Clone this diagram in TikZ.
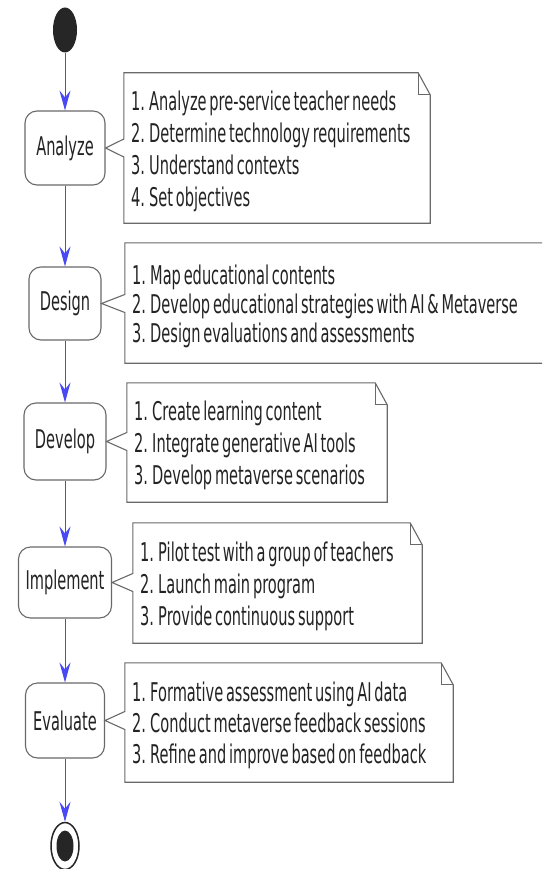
\documentclass[tikz,border=0pt]{standalone}
\usepackage{fontspec}
\newfontfamily\umlfont[FakeStretch=0.565,WordSpace=0.6]{DejaVu Sans}
\usetikzlibrary{arrows.meta,shapes.geometric,calc}
\definecolor{flowblue}{RGB}{72,72,245}
\definecolor{edgegray}{RGB}{105,105,105}
\definecolor{txtgray}{RGB}{35,35,35}
\newcommand\umlnote[2]{%
  \draw[noteline] (#1.north west) -- ($(#1.north east)+(-12,0)$) -- ($(#1.north east)+(0,22)$)
    -- (#1.south east) -- (#1.south west) -- ($(#1.west |- #2.east)+(0,9)$) -- (#2.east)
    -- ($(#1.west |- #2.east)+(0,-9)$) -- cycle;
  \draw[noteline] ($(#1.north east)+(-12,0)$) -- ($(#1.north east)+(-12,22)$) -- ($(#1.north east)+(0,22)$);
}
\begin{document}
\begin{tikzpicture}[x=1pt,y=-1pt,
  txtfont/.style={font=\umlfont\fontsize{25.8}{32}\selectfont, text=txtgray},
  activity/.style={draw=edgegray, line width=1.1pt, fill=white, rounded corners=12pt, txtfont, inner sep=0pt},
  notebox/.style={inner sep=0pt},
  notetext/.style={txtfont, align=left, inner xsep=7pt, inner ysep=0pt, anchor=west},
  flow/.style={draw=flowblue, line width=0.9pt, -{Stealth[length=20pt,width=11pt,inset=7pt]}},
  noteline/.style={draw=edgegray, line width=1.1pt, line join=miter},
  startnode/.style={ellipse, fill=black!85, minimum width=24pt, minimum height=45pt, inner sep=0pt},
  endouter/.style={ellipse, draw=black!85, line width=1.5pt, minimum width=28pt, minimum height=47pt, inner sep=0pt},
  endinner/.style={ellipse, fill=black!85, minimum width=17pt, minimum height=31pt, inner sep=0pt}]
\useasboundingbox (0,0) rectangle (542,869);
\fill[white] (0,0) rectangle (542,869);
\clip (0,0) rectangle (542,869);

\node[startnode] (start) at (65,30) {};
\node[activity, minimum width=80pt, minimum height=74pt] (a1) at (65,148) {Analyze};
\node[activity, minimum width=72pt, minimum height=73pt] (a2) at (65,303.5) {Design};
\node[activity, minimum width=82pt, minimum height=77pt] (a3) at (65,441.5) {Develop};
\node[activity, minimum width=93pt, minimum height=71pt] (a4) at (65,582.5) {Implement};
\node[activity, minimum width=79pt, minimum height=75pt] (a5) at (65,720.5) {Evaluate};
\node[endouter] (stop) at (65,846) {};
\node[endinner] (stopdot) at (stop.center) {};

\node[notebox, minimum width=306pt, minimum height=150pt] (n1) at (277,148) {};
\node[notebox, minimum width=435pt, minimum height=120pt] (n2) at (342.5,303) {};
\node[notebox, minimum width=260pt, minimum height=119pt] (n3) at (257,442.5) {};
\node[notebox, minimum width=289pt, minimum height=120pt] (n4) at (277.5,583) {};
\node[notebox, minimum width=328pt, minimum height=119pt] (n5) at (289,722.5) {};

\node[notetext, yshift=-3pt] (n1t) at (n1.west)
  {1. Analyze pre-service teacher needs\\2. Determine technology requirements\\3. Understand contexts\\4. Set objectives};
\node[notetext, font=\umlfont\fontsize{25.8}{29}\selectfont, yshift=-3pt] (n2t) at (n2.west)
  {1. Map educational contents\\2. Develop educational strategies with AI \& Metaverse\\3. Design evaluations and assessments};
\node[notetext, yshift=-3pt] (n3t) at (n3.west)
  {1. Create learning content\\2. Integrate generative AI tools\\3. Develop metaverse scenarios};
\node[notetext, yshift=-3pt] (n4t) at (n4.west)
  {1. Pilot test with a group of teachers\\2. Launch main program\\3. Provide continuous support};
\node[notetext, font=\umlfont\fontsize{25.8}{31}\selectfont, yshift=-3pt] (n5t) at (n5.west)
  {1. Formative assessment using AI data\\2. Conduct metaverse feedback sessions\\3. Refine and improve based on feedback};

\umlnote{n1}{a1}
\umlnote{n2}{a2}
\umlnote{n3}{a3}
\umlnote{n4}{a4}
\umlnote{n5}{a5}

\draw[flow] (start) -- (a1);
\draw[flow] (a1) -- (a2);
\draw[flow] (a2) -- (a3);
\draw[flow] (a3) -- (a4);
\draw[flow] (a4) -- (a5);
\draw[flow] (a5) -- (stop);
\end{tikzpicture}
\end{document}
